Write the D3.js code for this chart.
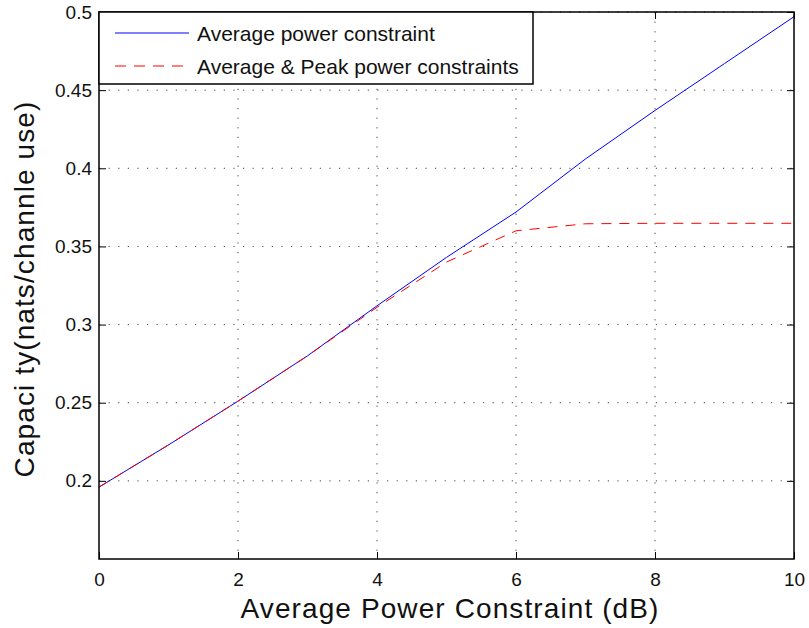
<!DOCTYPE html>
<html>
<head>
<meta charset="utf-8">
<script src="https://cdn.jsdelivr.net/npm/d3@7"></script>
<style>
  body { margin: 0; background: #fff; }
  svg text { font-family: "Liberation Sans", Arial, sans-serif; fill: #111; }
</style>
</head>
<body>
<div id="chart"></div>
<script>
// values
const snrDb = [0, 1, 2, 3, 4, 5, 6, 7, 8, 9, 10]
const avgPower = [0.196, 0.223, 0.251, 0.280, 0.312, 0.343, 0.372, 0.406, 0.437, 0.467, 0.497]
const avgPeakPower = [0.196, 0.223, 0.251, 0.280, 0.311, 0.340, 0.360, 0.3645, 0.3648, 0.3648, 0.3648]
const xTicks = [0, 2, 4, 6, 8, 10]
const yTicks = [0.2, 0.25, 0.3, 0.35, 0.4, 0.45, 0.5]
const seriesNames = ["Average power constraint", "Average & Peak power constraints"]

var width = 809,
    height = 628,
    margin = { top: 12, right: 15, bottom: 69, left: 99 };

var innerW = width - margin.left - margin.right,
    innerH = height - margin.top - margin.bottom;

var svg = d3.select('#chart')
    .append("svg")
    .attr("width", width)
    .attr("height", height);

var g = svg.append("g")
    .attr("transform", `translate(${margin.left},${margin.top})`);

var x = d3.scaleLinear().domain([0, 10]).range([0, innerW]);
var y = d3.scaleLinear().domain([0.15, 0.5]).range([innerH, 0]);

// grid
g.selectAll(".vgrid")
    .data(xTicks.slice(1, -1))
    .enter().append("line")
    .attr("x1", d => x(d)).attr("x2", d => x(d))
    .attr("y1", 0).attr("y2", innerH)
    .attr("stroke", "#444").attr("stroke-width", 1)
    .attr("stroke-dasharray", "1.2,8.4");

g.selectAll(".hgrid")
    .data(yTicks)
    .enter().append("line")
    .attr("x1", 0).attr("x2", innerW)
    .attr("y1", d => y(d)).attr("y2", d => y(d))
    .attr("stroke", "#444").attr("stroke-width", 1)
    .attr("stroke-dasharray", "1.2,8.4");

// curves
var line = d3.line().x((d, i) => x(snrDb[i])).y(d => y(d));

g.append("path")
    .datum(avgPower)
    .attr("d", line)
    .attr("fill", "none")
    .attr("stroke", "#0000ff")
    .attr("stroke-width", 1);

g.append("path")
    .datum(avgPeakPower)
    .attr("d", line)
    .attr("fill", "none")
    .attr("stroke", "#ff0000")
    .attr("stroke-width", 1)
    .attr("stroke-dasharray", "10,8");

// axes (ticks inward on all four sides)
var tickLen = 7;
var xAxis = d3.axisBottom(x).tickValues(xTicks).tickSize(-tickLen).tickSizeOuter(0).tickPadding(14);
var yAxis = d3.axisLeft(y).tickValues(yTicks).tickSize(-tickLen).tickSizeOuter(0).tickPadding(7)
    .tickFormat(d => String(+d.toFixed(2)));

var gx = g.append("g").attr("transform", `translate(0,${innerH})`).call(xAxis);
var gy = g.append("g").call(yAxis);
var gxTop = g.append("g").call(d3.axisTop(x).tickValues(xTicks).tickSize(-tickLen).tickSizeOuter(0).tickFormat(""));
var gyRight = g.append("g").attr("transform", `translate(${innerW},0)`)
    .call(d3.axisRight(y).tickValues(yTicks).tickSize(-tickLen).tickSizeOuter(0).tickFormat(""));

[gx, gy, gxTop, gyRight].forEach(a => {
    a.select(".domain").remove();
    a.selectAll(".tick line").attr("stroke", "#000").attr("stroke-width", 1);
    a.selectAll("text").style("font-size", "19px").attr("fill", "#111");
});

// frame
g.append("rect")
    .attr("x", 0).attr("y", 0)
    .attr("width", innerW).attr("height", innerH)
    .attr("fill", "none")
    .attr("stroke", "#000")
    .attr("stroke-width", 1.5);

// legend
var legend = g.append("g");
legend.append("rect")
    .attr("x", 0).attr("y", 0)
    .attr("width", 434).attr("height", 72)
    .attr("fill", "#fff")
    .attr("stroke", "#000")
    .attr("stroke-width", 1.5);

var legendColors = ["#0000ff", "#ff0000"];
var legendDash = [null, "11,8"];
seriesNames.forEach((name, i) => {
    var ly = 21 + i * 33;
    legend.append("line")
        .attr("x1", 16).attr("x2", 90)
        .attr("y1", ly).attr("y2", ly)
        .attr("stroke", legendColors[i])
        .attr("stroke-width", 1)
        .attr("stroke-dasharray", legendDash[i]);
    legend.append("text")
        .attr("x", 98).attr("y", ly + 8)
        .style("font-size", "21px")
        .text(name);
});

// axis titles
svg.append("text")
    .attr("x", 450)
    .attr("y", 618)
    .attr("text-anchor", "middle")
    .style("font-size", "28px")
    .style("letter-spacing", "1.1px")
    .text("Average Power Constraint (dB)");

svg.append("text")
    .attr("transform", `translate(34,289) rotate(-90)`)
    .attr("text-anchor", "middle")
    .style("font-size", "28px")
    .style("letter-spacing", "1.1px")
    .text("Capaci ty(nats/channle use)");
</script>
</body>
</html>
